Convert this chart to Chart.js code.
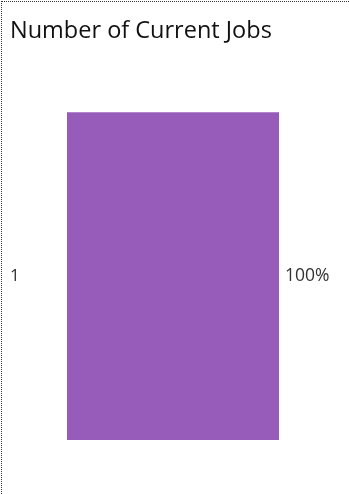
<!DOCTYPE html>
<html>
<head>
<meta charset="utf-8">
<script src="https://cdn.jsdelivr.net/npm/chart.js@4"></script>
<style>
  html, body { margin: 0; padding: 0; background: #fff; }
  #wrap { position: relative; width: 349px; height: 494px; }
  #frame { position: absolute; left: 1px; top: 1px; right: 0; bottom: 0;
           border-left: 1px dotted #333; border-top: 1px dotted #333; pointer-events: none; }
</style>
</head>
<body>
<div id="wrap">
  <canvas id="jobsChart" width="349" height="494"></canvas>
  <div id="frame"></div>
</div>
<script>
const categories = ['1'];
const shares = [100];
const chartTitle = 'Number of Current Jobs';

// подпись значения справа от столбца
const valueLabelPlugin = {
    id: 'valueLabel',
    afterDatasetsDraw: (chart) => {
        const ctx = chart.ctx;
        const meta = chart.getDatasetMeta(0);
        ctx.save();
        ctx.font = '17.5px "Open Sans"';
        ctx.fillStyle = '#333';
        ctx.textBaseline = 'middle';
        ctx.textAlign = 'left';
        meta.data.forEach((bar, i) => {
            ctx.fillText(shares[i] + '%', bar.x + 6, bar.y);
        });
        ctx.restore();
    }
};

new Chart(document.getElementById('jobsChart'), {
    type: 'bar',
    plugins: [valueLabelPlugin],
    data: {
        labels: categories,
        datasets: [{
            data: shares,
            backgroundColor: '#975bba',
            borderWidth: 0,
            barPercentage: 1,
            categoryPercentage: 1
        }]
    },
    options: {
        indexAxis: 'y',
        responsive: false,
        animation: false,
        layout: { padding: { top: 0, right: 70, bottom: 54, left: 10 } },
        plugins: {
            legend: { display: false },
            tooltip: { enabled: false },
            title: {
                display: true,
                text: chartTitle,
                align: 'start',
                color: '#111',
                font: { family: 'Open Sans', size: 23.5, weight: 'normal' },
                padding: { top: 17, bottom: 67 }
            }
        },
        scales: {
            x: { display: false, min: 0, max: 100 },
            y: {
                grid: { display: false },
                border: { display: false },
                ticks: {
                    color: '#333',
                    font: { family: 'Open Sans', size: 17 },
                    crossAlign: 'far',
                    padding: 0
                },
                afterFit: (scale) => { scale.width = 57; }
            }
        }
    }
});
</script>
</body>
</html>
